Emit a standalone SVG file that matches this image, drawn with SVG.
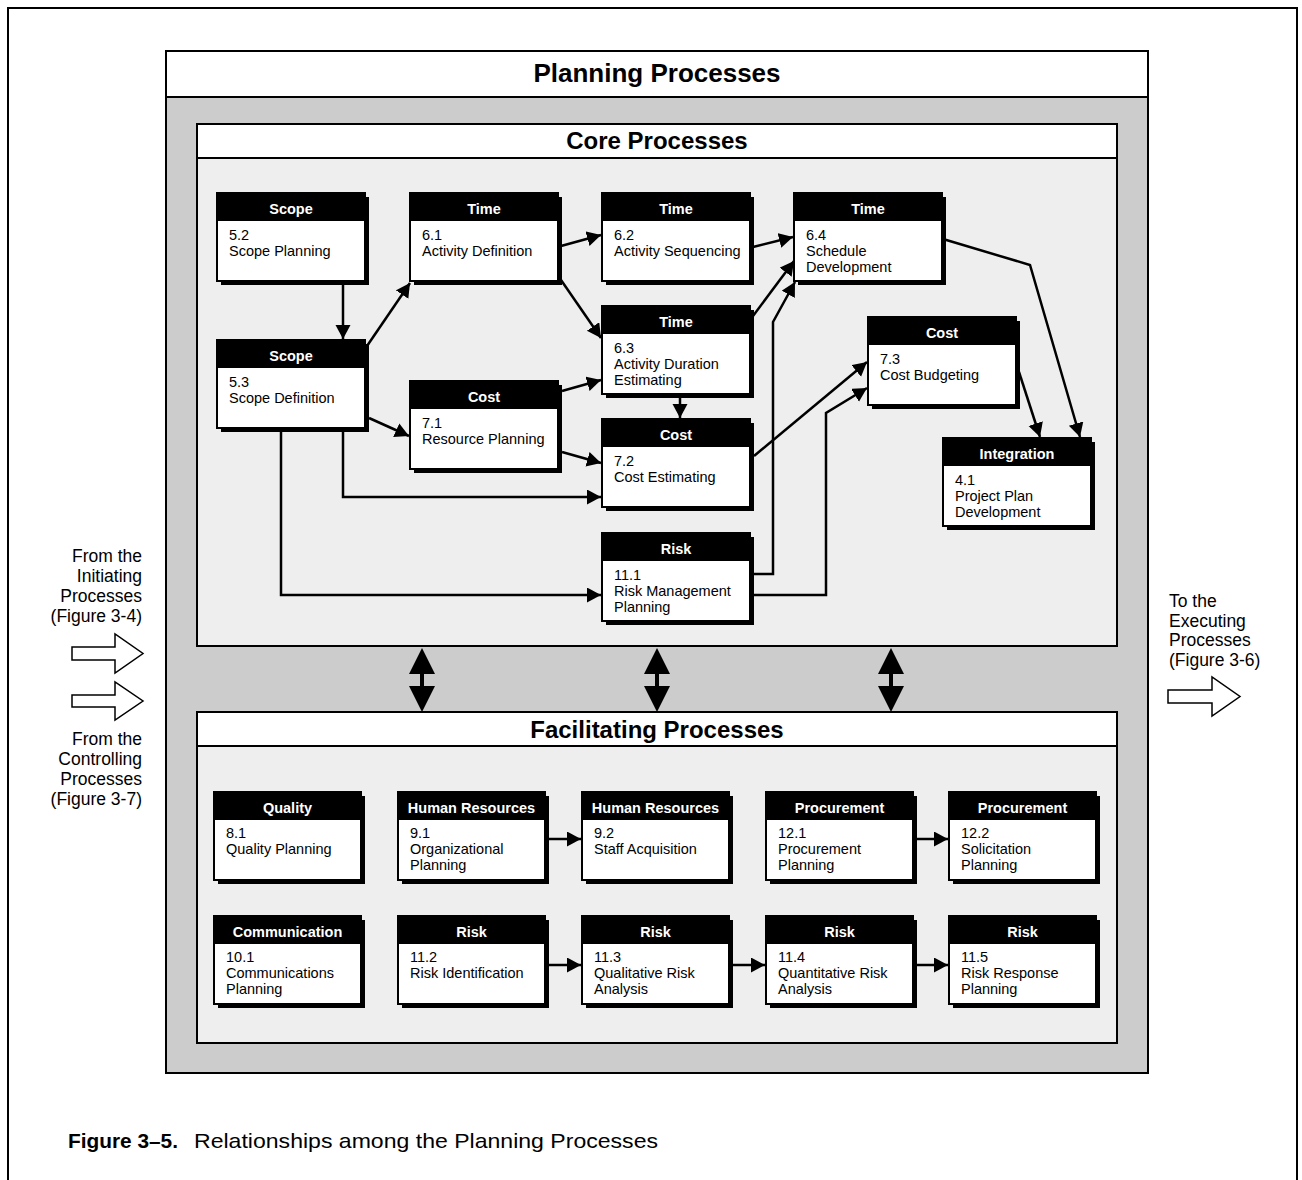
<svg xmlns="http://www.w3.org/2000/svg" width="1302" height="1180" viewBox="0 0 1302 1180">
<style>
text{font-family:"Liberation Sans",Arial,sans-serif;fill:#000}
.hd{font-size:14.5px;font-weight:bold;fill:#fff;text-anchor:middle}
.bd{font-size:14.5px}
.ttl{font-weight:bold;text-anchor:middle}
.side{font-size:17.5px}
.shadow{fill:#000}
.body{fill:#fff;stroke:#000;stroke-width:2}
.head{fill:#000}
.conn{fill:none;stroke:#000;stroke-width:2.5;marker-end:url(#ah)}
.hollow{fill:#fff;stroke:#000;stroke-width:1.5}
</style>
<defs>
<marker id="ah" markerUnits="userSpaceOnUse" markerWidth="16" markerHeight="16" refX="14" refY="7.5" orient="auto"><path d="M0,0 L14,7.5 L0,15 z" fill="#000"/></marker>
</defs>
<rect width="1302" height="1180" fill="#fff"/>
<path d="M8,1180 V8 H1297 V1180" fill="none" stroke="#000" stroke-width="2"/>
<g id="planning">
<rect x="166" y="51" width="982" height="1022" fill="#ccc" stroke="#000" stroke-width="2"/>
<rect x="166" y="51" width="982" height="46" fill="#fff" stroke="#000" stroke-width="2"/>
<text class="ttl" x="657" y="82" font-size="26">Planning Processes</text>
</g>
<g id="core">
<rect x="197" y="124" width="920" height="522" fill="#eee" stroke="#000" stroke-width="2"/>
<rect x="197" y="124" width="920" height="34" fill="#fff" stroke="#000" stroke-width="2"/>
<text class="ttl" x="657" y="149" font-size="24">Core Processes</text>
</g>
<g id="facilitating">
<rect x="197" y="712" width="920" height="331" fill="#eee" stroke="#000" stroke-width="2"/>
<rect x="197" y="712" width="920" height="34" fill="#fff" stroke="#000" stroke-width="2"/>
<text class="ttl" x="657" y="738" font-size="24">Facilitating Processes</text>
</g>
<g id="connectors">
<path class="conn" d="M343,285 V339"/>
<path class="conn" d="M367,346 L410,283"/>
<path class="conn" d="M561,246 L601,235"/>
<path class="conn" d="M561,280 L601,338"/>
<path class="conn" d="M753,247 L793,237"/>
<path class="conn" d="M753,316 L794,261"/>
<path class="conn" d="M754,574 H773 V322 L795,282"/>
<path class="conn" d="M754,456 L867,362"/>
<path class="conn" d="M754,595 H826 V413 L867,388"/>
<path class="conn" d="M943,239 L1030,265 L1080,437"/>
<path class="conn" d="M1019,372 L1040,437"/>
<path class="conn" d="M369,418 L409,436"/>
<path class="conn" d="M562,391 L601,380"/>
<path class="conn" d="M562,452 L601,463"/>
<path class="conn" d="M343,432 V497 H601"/>
<path class="conn" d="M281,432 V595 H601"/>
<path class="conn" d="M680,398 V418"/>
<path class="conn" d="M549,839 H581"/>
<path class="conn" d="M917,839 H948"/>
<path class="conn" d="M549,965 H581"/>
<path class="conn" d="M733,965 H765"/>
<path class="conn" d="M917,965 H948"/>
<path d="M422,648 L435,674 L424,674 L424,686 L435,686 L422,712 L409,686 L420,686 L420,674 L409,674 Z" fill="#000"/>
<path d="M657,648 L670,674 L659,674 L659,686 L670,686 L657,712 L644,686 L655,686 L655,674 L644,674 Z" fill="#000"/>
<path d="M891,648 L904,674 L893,674 L893,686 L904,686 L891,712 L878,686 L889,686 L889,674 L878,674 Z" fill="#000"/>
<path class="hollow" d="M72,647 H115 V634 L143,653.5 L115,673 V660 H72 Z"/>
<path class="hollow" d="M72,695 H115 V682 L143,701 L115,720 V707 H72 Z"/>
<path class="hollow" d="M1168,690 H1212 V677 L1240,696.5 L1212,716 V703 H1168 Z"/>
</g>
<g id="n52"><rect class="shadow" x="221" y="197" width="148" height="88"/><rect class="body" x="217" y="193" width="148" height="88"/><rect class="head" x="217" y="193" width="148" height="28"/><text class="hd" x="291" y="214">Scope</text><text class="bd" x="229" y="240">5.2</text><text class="bd" x="229" y="256">Scope Planning</text></g>
<g id="n61"><rect class="shadow" x="414" y="197" width="148" height="88"/><rect class="body" x="410" y="193" width="148" height="88"/><rect class="head" x="410" y="193" width="148" height="28"/><text class="hd" x="484" y="214">Time</text><text class="bd" x="422" y="240">6.1</text><text class="bd" x="422" y="256">Activity Definition</text></g>
<g id="n62"><rect class="shadow" x="606" y="197" width="148" height="88"/><rect class="body" x="602" y="193" width="148" height="88"/><rect class="head" x="602" y="193" width="148" height="28"/><text class="hd" x="676" y="214">Time</text><text class="bd" x="614" y="240">6.2</text><text class="bd" x="614" y="256">Activity Sequencing</text></g>
<g id="n64"><rect class="shadow" x="798" y="197" width="148" height="88"/><rect class="body" x="794" y="193" width="148" height="88"/><rect class="head" x="794" y="193" width="148" height="28"/><text class="hd" x="868" y="214">Time</text><text class="bd" x="806" y="240">6.4</text><text class="bd" x="806" y="256">Schedule</text><text class="bd" x="806" y="272">Development</text></g>
<g id="n53"><rect class="shadow" x="221" y="344" width="148" height="88"/><rect class="body" x="217" y="340" width="148" height="88"/><rect class="head" x="217" y="340" width="148" height="28"/><text class="hd" x="291" y="361">Scope</text><text class="bd" x="229" y="387">5.3</text><text class="bd" x="229" y="403">Scope Definition</text></g>
<g id="n71"><rect class="shadow" x="414" y="385" width="148" height="88"/><rect class="body" x="410" y="381" width="148" height="88"/><rect class="head" x="410" y="381" width="148" height="28"/><text class="hd" x="484" y="402">Cost</text><text class="bd" x="422" y="428">7.1</text><text class="bd" x="422" y="444">Resource Planning</text></g>
<g id="n63"><rect class="shadow" x="606" y="310" width="148" height="88"/><rect class="body" x="602" y="306" width="148" height="88"/><rect class="head" x="602" y="306" width="148" height="28"/><text class="hd" x="676" y="327">Time</text><text class="bd" x="614" y="353">6.3</text><text class="bd" x="614" y="369">Activity Duration</text><text class="bd" x="614" y="385">Estimating</text></g>
<g id="n72"><rect class="shadow" x="606" y="423" width="148" height="88"/><rect class="body" x="602" y="419" width="148" height="88"/><rect class="head" x="602" y="419" width="148" height="28"/><text class="hd" x="676" y="440">Cost</text><text class="bd" x="614" y="466">7.2</text><text class="bd" x="614" y="482">Cost Estimating</text></g>
<g id="n111"><rect class="shadow" x="606" y="537" width="148" height="88"/><rect class="body" x="602" y="533" width="148" height="88"/><rect class="head" x="602" y="533" width="148" height="28"/><text class="hd" x="676" y="554">Risk</text><text class="bd" x="614" y="580">11.1</text><text class="bd" x="614" y="596">Risk Management</text><text class="bd" x="614" y="612">Planning</text></g>
<g id="n73"><rect class="shadow" x="872" y="321" width="148" height="88"/><rect class="body" x="868" y="317" width="148" height="88"/><rect class="head" x="868" y="317" width="148" height="28"/><text class="hd" x="942" y="338">Cost</text><text class="bd" x="880" y="364">7.3</text><text class="bd" x="880" y="380">Cost Budgeting</text></g>
<g id="n41"><rect class="shadow" x="947" y="442" width="148" height="88"/><rect class="body" x="943" y="438" width="148" height="88"/><rect class="head" x="943" y="438" width="148" height="28"/><text class="hd" x="1017" y="459">Integration</text><text class="bd" x="955" y="485">4.1</text><text class="bd" x="955" y="501">Project Plan</text><text class="bd" x="955" y="517">Development</text></g>
<g id="n81"><rect class="shadow" x="218" y="796" width="147" height="88"/><rect class="body" x="214" y="792" width="147" height="88"/><rect class="head" x="214" y="792" width="147" height="28"/><text class="hd" x="287.5" y="813">Quality</text><text class="bd" x="226" y="838">8.1</text><text class="bd" x="226" y="854">Quality Planning</text></g>
<g id="n91"><rect class="shadow" x="402" y="796" width="147" height="88"/><rect class="body" x="398" y="792" width="147" height="88"/><rect class="head" x="398" y="792" width="147" height="28"/><text class="hd" x="471.5" y="813">Human Resources</text><text class="bd" x="410" y="838">9.1</text><text class="bd" x="410" y="854">Organizational</text><text class="bd" x="410" y="870">Planning</text></g>
<g id="n92"><rect class="shadow" x="586" y="796" width="147" height="88"/><rect class="body" x="582" y="792" width="147" height="88"/><rect class="head" x="582" y="792" width="147" height="28"/><text class="hd" x="655.5" y="813">Human Resources</text><text class="bd" x="594" y="838">9.2</text><text class="bd" x="594" y="854">Staff Acquisition</text></g>
<g id="n121"><rect class="shadow" x="770" y="796" width="147" height="88"/><rect class="body" x="766" y="792" width="147" height="88"/><rect class="head" x="766" y="792" width="147" height="28"/><text class="hd" x="839.5" y="813">Procurement</text><text class="bd" x="778" y="838">12.1</text><text class="bd" x="778" y="854">Procurement</text><text class="bd" x="778" y="870">Planning</text></g>
<g id="n122"><rect class="shadow" x="953" y="796" width="147" height="88"/><rect class="body" x="949" y="792" width="147" height="88"/><rect class="head" x="949" y="792" width="147" height="28"/><text class="hd" x="1022.5" y="813">Procurement</text><text class="bd" x="961" y="838">12.2</text><text class="bd" x="961" y="854">Solicitation</text><text class="bd" x="961" y="870">Planning</text></g>
<g id="n101"><rect class="shadow" x="218" y="920" width="147" height="88"/><rect class="body" x="214" y="916" width="147" height="88"/><rect class="head" x="214" y="916" width="147" height="28"/><text class="hd" x="287.5" y="937">Communication</text><text class="bd" x="226" y="962">10.1</text><text class="bd" x="226" y="978">Communications</text><text class="bd" x="226" y="994">Planning</text></g>
<g id="n112"><rect class="shadow" x="402" y="920" width="147" height="88"/><rect class="body" x="398" y="916" width="147" height="88"/><rect class="head" x="398" y="916" width="147" height="28"/><text class="hd" x="471.5" y="937">Risk</text><text class="bd" x="410" y="962">11.2</text><text class="bd" x="410" y="978">Risk Identification</text></g>
<g id="n113"><rect class="shadow" x="586" y="920" width="147" height="88"/><rect class="body" x="582" y="916" width="147" height="88"/><rect class="head" x="582" y="916" width="147" height="28"/><text class="hd" x="655.5" y="937">Risk</text><text class="bd" x="594" y="962">11.3</text><text class="bd" x="594" y="978">Qualitative Risk</text><text class="bd" x="594" y="994">Analysis</text></g>
<g id="n114"><rect class="shadow" x="770" y="920" width="147" height="88"/><rect class="body" x="766" y="916" width="147" height="88"/><rect class="head" x="766" y="916" width="147" height="28"/><text class="hd" x="839.5" y="937">Risk</text><text class="bd" x="778" y="962">11.4</text><text class="bd" x="778" y="978">Quantitative Risk</text><text class="bd" x="778" y="994">Analysis</text></g>
<g id="n115"><rect class="shadow" x="953" y="920" width="147" height="88"/><rect class="body" x="949" y="916" width="147" height="88"/><rect class="head" x="949" y="916" width="147" height="28"/><text class="hd" x="1022.5" y="937">Risk</text><text class="bd" x="961" y="962">11.5</text><text class="bd" x="961" y="978">Risk Response</text><text class="bd" x="961" y="994">Planning</text></g>
<g id="side-texts">
<text class="side" text-anchor="end" x="142" y="562">From the</text>
<text class="side" text-anchor="end" x="142" y="582">Initiating</text>
<text class="side" text-anchor="end" x="142" y="602">Processes</text>
<text class="side" text-anchor="end" x="142" y="622">(Figure 3-4)</text>
<text class="side" text-anchor="end" x="142" y="745">From the</text>
<text class="side" text-anchor="end" x="142" y="765">Controlling</text>
<text class="side" text-anchor="end" x="142" y="785">Processes</text>
<text class="side" text-anchor="end" x="142" y="805">(Figure 3-7)</text>
<text class="side" x="1169" y="607">To the</text>
<text class="side" x="1169" y="626.5">Executing</text>
<text class="side" x="1169" y="646">Processes</text>
<text class="side" x="1169" y="665.5">(Figure 3-6)</text>
</g>
<g id="caption">
<text x="68" y="1148" font-size="21" font-weight="bold" textLength="110" lengthAdjust="spacingAndGlyphs">Figure 3–5.</text>
<text x="194" y="1148" font-size="21" textLength="464" lengthAdjust="spacingAndGlyphs">Relationships among the Planning Processes</text>
</g>
</svg>
